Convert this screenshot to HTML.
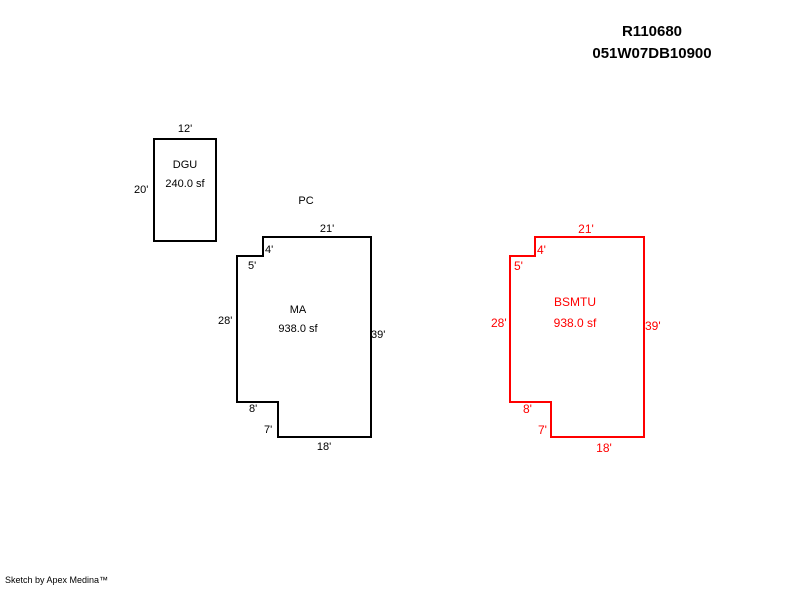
<!DOCTYPE html>
<html><head><style>
body{margin:0;background:#fff;width:800px;height:587px;overflow:hidden}
svg text{font-family:"Liberation Sans",Arial,sans-serif;font-size:11px}
</style></head><body>
<svg width="800" height="587" xmlns="http://www.w3.org/2000/svg">
<text x="652" y="36" text-anchor="middle" style="font-size:15px;font-weight:bold">R110680</text>
<text x="652" y="58" text-anchor="middle" style="font-size:15px;font-weight:bold">051W07DB10900</text>
<g fill="none" stroke="#000" stroke-width="2">
<rect x="154" y="139" width="62" height="102"/>
<polygon points="263,237 371,237 371,437 278,437 278,402 237,402 237,256 263,256"/>
</g>
<polygon points="535,237 644,237 644,437 551,437 551,402 510,402 510,256 535,256" fill="none" stroke="#f00" stroke-width="2"/>
<g fill="#000">
<text x="185" y="132" text-anchor="middle">12'</text>
<text x="134" y="193">20'</text>
<text x="185" y="168" text-anchor="middle">DGU</text>
<text x="185" y="187" text-anchor="middle">240.0 sf</text>
<text x="306" y="204" text-anchor="middle">PC</text>
<text x="327" y="232" text-anchor="middle">21'</text>
<text x="265" y="253">4'</text>
<text x="248" y="269">5'</text>
<text x="218" y="324">28'</text>
<text x="298" y="313" text-anchor="middle">MA</text>
<text x="298" y="332" text-anchor="middle">938.0 sf</text>
<text x="371" y="338">39'</text>
<text x="249" y="412">8'</text>
<text x="264" y="433">7'</text>
<text x="324" y="450" text-anchor="middle">18'</text>
</g>
<g fill="#f00" style="font-size:12px">
<text x="586" y="233" text-anchor="middle" style="font-size:12px">21'</text>
<text x="537" y="254" style="font-size:12px">4'</text>
<text x="514" y="270" style="font-size:12px">5'</text>
<text x="491" y="327" style="font-size:12px">28'</text>
<text x="575" y="306" text-anchor="middle" style="font-size:12px">BSMTU</text>
<text x="575" y="327" text-anchor="middle" style="font-size:12px">938.0 sf</text>
<text x="645" y="330" style="font-size:12px">39'</text>
<text x="523" y="413" style="font-size:12px">8'</text>
<text x="538" y="434" style="font-size:12px">7'</text>
<text x="604" y="452" text-anchor="middle" style="font-size:12px">18'</text>
</g>
<text x="5" y="583" style="font-size:9px">Sketch by Apex Medina™</text>
</svg>
</body></html>
